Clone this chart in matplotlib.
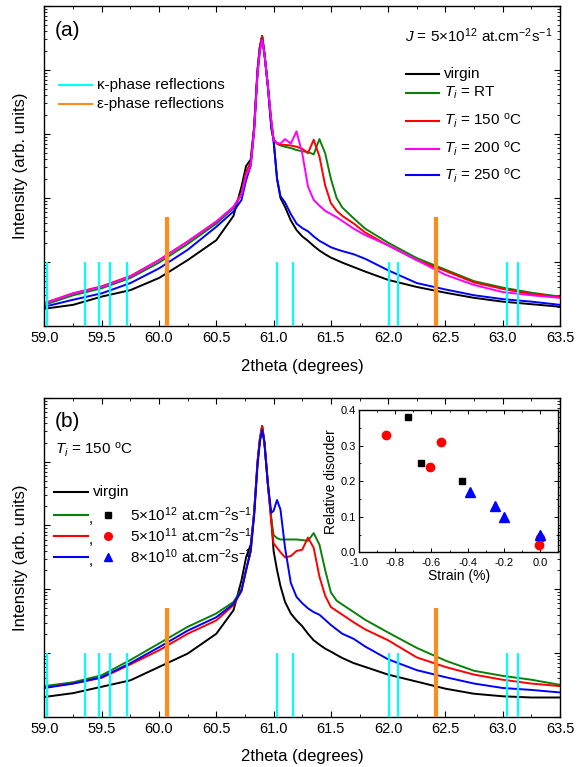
import numpy as np, matplotlib; matplotlib.use("Agg"); import matplotlib.pyplot as plt
from matplotlib.ticker import MultipleLocator, LogLocator, NullFormatter, FormatStrFormatter

plt.rcParams.update({"font.family": ["Liberation Sans", "DejaVu Sans"],
                     "mathtext.fontset": "custom", "mathtext.rm": "Liberation Sans",
                     "mathtext.it": "Liberation Sans:italic", "mathtext.bf": "Liberation Sans:bold",
                     "xtick.direction": "in", "ytick.direction": "in",
                     "xtick.top": True, "ytick.right": True, "axes.linewidth": 1.0})

theta = [59.0, 59.25, 59.5, 59.75, 60.0, 60.25, 60.5, 60.65, 60.72, 60.76, 60.8, 60.83, 60.86, 60.88,
         60.9, 60.92, 60.95, 60.98, 61.0, 61.03, 61.06, 61.1, 61.15, 61.2, 61.25, 61.3, 61.35, 61.4,
         61.45, 61.5, 61.55, 61.6, 61.7, 61.8, 62.0, 62.25, 62.5, 62.75, 63.0, 63.25, 63.5]

# (a) J = 5e12, different implantation temperatures  (arb. units)
top_virgin = [1.86, 2.14, 2.88, 3.63, 5.62, 10.7, 21.9, 52.5, 151, 316, 398, 1260, 10000, 22900,
              33900, 18200, 5620, 1260, 794, 200, 100, 72.4, 44.7, 31.6, 25.1, 21.4, 17.8, 15.1,
              13.2, 11.7, 10.7, 9.77, 8.32, 7.08, 5.25, 4.07, 3.31, 2.75, 2.40, 2.19, 2.0]
top_rt = [2.14, 3.02, 3.89, 5.62, 9.77, 19.1, 39.8, 69.2, 115, 251, 355, 1260, 10000, 22900,
          33900, 18200, 5620, 1580, 832, 708, 661, 631, 603, 562, 537, 525, 479, 832,
          501, 200, 100, 70.8, 47.9, 33.1, 20.0, 11.5, 7.59, 5.01, 3.98, 3.31, 2.88]
top_150 = [2.29, 3.24, 4.17, 6.03, 10.7, 20.9, 42.7, 72.4, 117, 251, 355, 1260, 10000, 22900,
           33900, 18200, 5620, 1580, 832, 708, 676, 676, 661, 631, 589, 501, 813, 447,
           158, 83.2, 63.1, 52.5, 39.8, 28.8, 18.2, 10.7, 7.24, 4.79, 3.80, 3.16, 2.82]
top_200 = [2.24, 3.24, 4.07, 5.89, 10.7, 20.9, 42.7, 72.4, 112, 224, 316, 1120, 8910, 20000,
           29500, 17800, 5620, 1580, 794, 724, 708, 832, 708, 1100, 501, 151, 93.3, 75.9,
           63.1, 56.2, 50.1, 43.7, 33.1, 26.3, 18.2, 10.7, 6.31, 4.37, 3.39, 3.02, 2.75]
top_250 = [2.0, 2.57, 3.24, 4.68, 7.94, 15.5, 35.5, 61.7, 93.3, 191, 316, 1120, 8910, 20000,
           30200, 17800, 5620, 1260, 794, 200, 107, 85.1, 56.2, 39.8, 33.9, 30.2, 25.1, 21.4,
           19.1, 17.0, 15.8, 14.8, 13.2, 11.2, 7.41, 4.68, 3.72, 3.02, 2.63, 2.40, 2.14]

# (b) Ti = 150 C, different fluxes
bot_virgin = [2.04, 2.34, 2.95, 3.72, 6.03, 9.77, 20.0, 46.8, 138, 316, 501, 1580, 10000, 22400,
              36300, 20000, 4470, 1260, 398, 200, 112, 63.1, 41.7, 32.4, 26.3, 20.0, 15.8, 13.5,
              11.7, 10.5, 9.33, 8.32, 6.92, 6.03, 4.57, 3.55, 2.75, 2.29, 2.09, 2.0, 2.0]
bot_5e12 = [3.02, 3.47, 4.47, 7.76, 14.1, 25.7, 41.7, 63.1, 100, 200, 398, 1580, 10000, 22400,
            36300, 20000, 4470, 1260, 708, 631, 603, 603, 603, 603, 589, 575, 759, 501,
            200, 89.1, 66.1, 57.5, 43.7, 33.1, 20.9, 12.0, 7.59, 5.25, 4.37, 3.80, 3.16]
bot_5e11 = [2.88, 3.31, 4.07, 6.61, 11.0, 20.0, 32.4, 56.2, 93.3, 200, 398, 1580, 10000, 22400,
            36300, 20000, 4470, 1120, 525, 447, 380, 316, 331, 398, 417, 646, 447, 158,
            79.4, 52.5, 45.7, 39.8, 30.2, 23.4, 15.8, 8.51, 6.03, 4.57, 3.80, 3.31, 3.02]
bot_8e10 = [2.82, 3.31, 4.17, 6.92, 12.3, 22.4, 36.3, 58.9, 95.5, 200, 398, 1410, 8910, 20000,
            31600, 20000, 4470, 1580, 1700, 2510, 1780, 447, 126, 75.9, 60.3, 50.1, 43.7, 39.8,
            33.1, 27.5, 23.4, 20.0, 16.6, 12.6, 7.94, 5.37, 4.17, 3.31, 2.82, 2.63, 2.40]

# reference reflections
kappa_pos = [59.02, 59.35, 59.48, 59.57, 59.72, 61.03, 61.17, 62.01, 62.09, 63.04, 63.13]
eps_pos = [60.07, 62.42]
kappa_top = 10
eps_top = 50

# inset: relative disorder vs strain
strain_5e12 = [-0.73, -0.66, -0.43]
dis_5e12 = [0.38, 0.25, 0.20]
strain_5e11 = [-0.85, -0.55, -0.61, 0.0, -0.005]
dis_5e11 = [0.33, 0.31, 0.24, 0.04, 0.02]
strain_8e10 = [-0.39, -0.25, -0.20, 0.0]
dis_8e10 = [0.17, 0.13, 0.10, 0.05]

GREEN, RED, MAG, BLUE = "#0a800a", "#ff0000", "#ff00ff", "#0000ff"
CYAN, ORANGE = "#00ffff", "#ff8c1a"

def style(ax):
    ax.set_yscale("log"); ax.set_xlim(59, 63.5); ax.set_ylim(1, 1e5)
    ax.xaxis.set_major_locator(MultipleLocator(0.5)); ax.xaxis.set_minor_locator(MultipleLocator(0.25))
    ax.xaxis.set_major_formatter(FormatStrFormatter("%.1f"))
    ax.yaxis.set_major_locator(LogLocator(base=10, numticks=10))
    ax.yaxis.set_minor_locator(LogLocator(base=10, subs=np.arange(2, 10), numticks=10))
    ax.yaxis.set_major_formatter(NullFormatter()); ax.yaxis.set_minor_formatter(NullFormatter())
    ax.tick_params(which="major", length=4, width=0.8, labelsize=10.5)
    ax.tick_params(which="minor", length=2, width=0.6)
    ax.set_xlabel("2theta (degrees)", fontsize=12, labelpad=10)
    ax.set_ylabel("Intensity (arb. units)", fontsize=12)
    ax.yaxis.set_label_coords(-0.032, 0.5)
    ax.vlines(kappa_pos, 1, kappa_top, color=CYAN, lw=1.6, zorder=5)
    ax.vlines(eps_pos, 1, eps_top, color=ORANGE, lw=3, zorder=5)

def legline(ax, x0, x1, y, color):
    ax.plot([x0, x1], [y, y], transform=ax.transAxes, color=color, lw=1.5, clip_on=False)

fig = plt.figure(figsize=(5.77, 7.67), dpi=100)

# ---- (a) ----
ax1 = fig.add_axes([0.0771, 0.5750, 0.8934, 0.4172])
for y, c in [(top_virgin, "black"), (top_rt, GREEN), (top_150, RED), (top_250, BLUE), (top_200, MAG)]:
    ax1.plot(theta, y, color=c, lw=1.4)
style(ax1)
ax1.text(0.02, 0.922, "(a)", transform=ax1.transAxes, fontsize=15, va="center")
legline(ax1, 0.028, 0.092, 0.753, CYAN); legline(ax1, 0.028, 0.092, 0.694, ORANGE)
ax1.text(0.102, 0.753, "κ-phase reflections", transform=ax1.transAxes, fontsize=11, va="center")
ax1.text(0.102, 0.694, "ε-phase reflections", transform=ax1.transAxes, fontsize=11, va="center")
ax1.text(0.699, 0.906, r"$J$ = 5$\times$10$^{12}$ at.cm$^{-2}$s$^{-1}$", transform=ax1.transAxes,
         fontsize=11, va="center")
labels_a = ["virgin", r"$T_i$ = RT", r"$T_i$ = 150 $^{\rm o}$C", r"$T_i$ = 200 $^{\rm o}$C", r"$T_i$ = 250 $^{\rm o}$C"]
cols_a = ["black", GREEN, RED, MAG, BLUE]
rows_a = [0.7875, 0.728, 0.6406, 0.553, 0.4703]
for lab, c, yy in zip(labels_a, cols_a, rows_a):
    legline(ax1, 0.7007, 0.765, yy, c)
    ax1.text(0.775, yy, lab, transform=ax1.transAxes, fontsize=11, va="center")

# ---- (b) ----
ax2 = fig.add_axes([0.0771, 0.0656, 0.8934, 0.4155])
for y, c in [(bot_virgin, "black"), (bot_5e12, GREEN), (bot_5e11, RED), (bot_8e10, BLUE)]:
    ax2.plot(theta, y, color=c, lw=1.4)
style(ax2)
ax2.text(0.02, 0.925, "(b)", transform=ax2.transAxes, fontsize=15, va="center")
ax2.text(0.02, 0.837, r"$T_i$ = 150 $^{\rm o}$C", transform=ax2.transAxes, fontsize=11, va="center")
legline(ax2, 0.018, 0.084, 0.705, "black")
ax2.text(0.094, 0.705, "virgin", transform=ax2.transAxes, fontsize=11, va="center")
labels_b = [r"5$\times$10$^{12}$ at.cm$^{-2}$s$^{-1}$", r"5$\times$10$^{11}$ at.cm$^{-2}$s$^{-1}$",
            r"8$\times$10$^{10}$ at.cm$^{-2}$s$^{-1}$"]
cols_b = [GREEN, RED, BLUE]
marks_b = [("s", "black", 4.5), ("o", RED, 5.5), ("^", BLUE, 6)]
rows_b = [0.633, 0.567, 0.501]
for lab, c, (m, mc, ms), yy in zip(labels_b, cols_b, marks_b, rows_b):
    legline(ax2, 0.018, 0.084, yy, c)
    ax2.text(0.086, yy - 0.012, ",", transform=ax2.transAxes, fontsize=11, va="center")
    ax2.plot([0.123], [yy], marker=m, color=mc, ms=ms, transform=ax2.transAxes, ls="none")
    ax2.text(0.166, yy, lab, transform=ax2.transAxes, fontsize=11, va="center")

# ---- inset ----
axi = fig.add_axes([0.6222, 0.2799, 0.3454, 0.1855])
axi.plot(strain_5e12, dis_5e12, "s", color="black", ms=5)
axi.plot(strain_5e11, dis_5e11, "o", color=RED, ms=6)
axi.plot(strain_8e10, dis_8e10, "^", color=BLUE, ms=7)
axi.set_xlim(-1.0, 0.1); axi.set_ylim(0, 0.4)
axi.xaxis.set_major_locator(MultipleLocator(0.2)); axi.xaxis.set_minor_locator(MultipleLocator(0.1))
axi.yaxis.set_major_locator(MultipleLocator(0.1)); axi.yaxis.set_minor_locator(MultipleLocator(0.05))
axi.xaxis.set_major_formatter(FormatStrFormatter("%.1f")); axi.yaxis.set_major_formatter(FormatStrFormatter("%.1f"))
axi.tick_params(which="major", length=3, width=0.7, labelsize=8)
axi.tick_params(axis="x", which="major", pad=4)
axi.tick_params(axis="y", which="major", pad=2)
axi.tick_params(which="minor", length=1.5, width=0.6)
axi.set_xlabel("Strain (%)", fontsize=10, labelpad=1)
axi.set_ylabel("Relative disorder", fontsize=10, labelpad=2)

fig.savefig("out.png", dpi=100)
